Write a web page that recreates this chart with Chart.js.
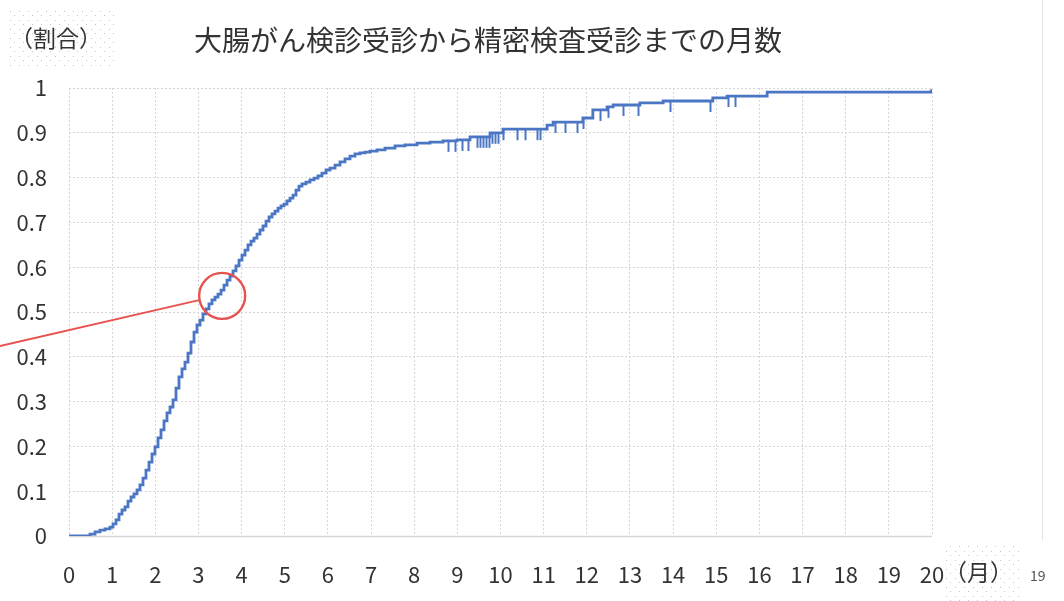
<!DOCTYPE html>
<html>
<head>
<meta charset="utf-8">
<script src="https://cdn.jsdelivr.net/npm/chart.js@4"></script>
<style>
  html, body { margin: 0; padding: 0; background: #fff; }
  #wrap { width: 1064px; height: 601px; }
</style>
</head>
<body>
<div id="wrap"><canvas id="kmChart" width="1064" height="601"></canvas></div>
<script>
// 受診までの月数 と 累積割合 (readings)
var months = [0, 0.45, 0.487, 0.603, 0.718, 0.834, 0.950, 1.020, 1.089, 1.159, 1.228, 1.298, 1.367, 1.437,
    1.506, 1.576, 1.645, 1.715, 1.784, 1.854, 1.924, 1.993, 2.063, 2.132, 2.202, 2.271, 2.341, 2.410,
    2.480, 2.549, 2.619, 2.688, 2.758, 2.827, 2.897, 2.966, 3.036, 3.105, 3.175, 3.245, 3.314, 3.384,
    3.453, 3.523, 3.592, 3.662, 3.731, 3.801, 3.870, 3.940, 4.009, 4.079, 4.148, 4.218, 4.287, 4.357,
    4.426, 4.496, 4.566, 4.635, 4.705, 4.774, 4.844, 4.913, 4.983, 5.052, 5.122, 5.191, 5.261, 5.330,
    5.400, 5.492, 5.585, 5.678, 5.770, 5.863, 5.956, 6.049, 6.165, 6.280, 6.396, 6.512, 6.628, 6.744,
    6.860, 6.976, 7.138, 7.323, 7.555, 7.787, 8.065, 8.366, 8.667, 8.992, 9.293, 9.757, 10.058,
    11.08, 11.22, 11.91, 12.14, 12.47, 12.61, 13.23, 13.77, 14.92, 15.25, 16.18, 19.98, 20.0];
var rates = [0, 0, 0.004, 0.009, 0.013, 0.016, 0.020, 0.027, 0.036, 0.049, 0.058, 0.065, 0.078, 0.087,
    0.094, 0.103, 0.114, 0.129, 0.147, 0.165, 0.183, 0.199, 0.219, 0.237, 0.257, 0.275, 0.288, 0.304,
    0.330, 0.355, 0.373, 0.388, 0.408, 0.433, 0.455, 0.471, 0.482, 0.496, 0.507, 0.518, 0.527, 0.533,
    0.540, 0.549, 0.560, 0.571, 0.580, 0.592, 0.603, 0.616, 0.627, 0.638, 0.650, 0.658, 0.665, 0.674,
    0.683, 0.692, 0.703, 0.712, 0.719, 0.725, 0.732, 0.737, 0.741, 0.748, 0.754, 0.761, 0.772, 0.781,
    0.786, 0.790, 0.795, 0.799, 0.804, 0.810, 0.817, 0.821, 0.828, 0.835, 0.842, 0.848, 0.853, 0.855,
    0.857, 0.859, 0.862, 0.866, 0.871, 0.873, 0.877, 0.879, 0.882, 0.884, 0.891, 0.900, 0.908,
    0.917, 0.924, 0.933, 0.951, 0.958, 0.962, 0.967, 0.971, 0.978, 0.982, 0.991, 0.993, 0.997];

// 打ち切り (censor marks)
var censorMonths = [8.78, 8.95, 9.11, 9.25, 9.46, 9.52, 9.59, 9.66, 9.73, 9.80, 9.87, 9.94, 10.06,
    10.38, 10.57, 10.85, 10.92, 11.26, 11.49, 11.77, 11.91, 12.31, 12.49, 12.84, 13.19, 13.93,
    14.86, 15.27, 15.43];

var xTickLabels = ['0','1','2','3','4','5','6','7','8','9','10','11','12','13','14','15','16','17','18','19','20'];
var yTickLabels = ['0','0.1','0.2','0.3','0.4','0.5','0.6','0.7','0.8','0.9','1'];

var titleText = '大腸がん検診受診から精密検査受診までの月数';
var yAxisTitle = '（割合）';
var xAxisTitle = '（月）';
var pageNo = '19';

// red highlight circle and pointer
var circleAt = { x: 3.55, y: 0.536 };
var pointerFrom = { x: -1.6, y: 0.424 };
var pointerTo = { x: 3.04, y: 0.527 };

var lineColor = '#4a76c4';
var fontJP = '"Noto Sans CJK JP", "Noto Sans", sans-serif';

var points = months.map(function (m, i) { return { x: m, y: rates[i] }; });

function rateAt(t) {
    var v = 0;
    for (var i = 0; i < months.length; i++) {
        if (months[i] <= t) v = rates[i];
    }
    return v;
}

function dotPattern(ctx) {
    var c = document.createElement('canvas');
    c.width = 9; c.height = 9;
    var g = c.getContext('2d');
    g.fillStyle = '#b9c6d3';
    g.fillRect(1, 2, 1, 1);
    g.fillRect(5, 6, 1, 1);
    return ctx.createPattern(c, 'repeat');
}

var decorPlugin = {
    id: 'decor',
    beforeDatasetsDraw: function (chart) {
        var ctx = chart.ctx, a = chart.chartArea;
        ctx.save();
        ctx.strokeStyle = '#d6d6d6';
        ctx.lineWidth = 1.5;
        ctx.beginPath();
        ctx.moveTo(a.left, a.bottom + 0.5);
        ctx.lineTo(a.right, a.bottom + 0.5);
        ctx.stroke();
        ctx.restore();
    },
    afterDatasetsDraw: function (chart) {
        var ctx = chart.ctx, xs = chart.scales.x, ys = chart.scales.y;
        ctx.save();
        // censor ticks hanging below the curve
        ctx.strokeStyle = lineColor;
        ctx.lineWidth = 2;
        censorMonths.forEach(function (t) {
            var px = Math.round(xs.getPixelForValue(t)) + 0.5;
            var py = ys.getPixelForValue(rateAt(t));
            ctx.beginPath();
            ctx.moveTo(px, py);
            ctx.lineTo(px, py + 11);
            ctx.stroke();
        });
        // red circle + pointer
        ctx.strokeStyle = '#e8524f';
        ctx.lineWidth = 2.4;
        ctx.beginPath();
        ctx.arc(xs.getPixelForValue(circleAt.x), ys.getPixelForValue(circleAt.y), 23, 0, Math.PI * 2);
        ctx.stroke();
        ctx.lineWidth = 1.8;
        ctx.beginPath();
        ctx.moveTo(xs.getPixelForValue(pointerFrom.x), ys.getPixelForValue(pointerFrom.y));
        ctx.lineTo(xs.getPixelForValue(pointerTo.x), ys.getPixelForValue(pointerTo.y));
        ctx.stroke();
        ctx.restore();
    },
    afterDraw: function (chart) {
        var ctx = chart.ctx;
        ctx.save();
        // stippled label boxes
        ctx.fillStyle = dotPattern(ctx);
        ctx.fillRect(8, 8, 108, 58);
        ctx.fillStyle = '#ffffff';
        ctx.fillRect(946, 546, 76, 55);
        ctx.fillStyle = dotPattern(ctx);
        ctx.fillRect(946, 546, 76, 55);
        // page edge
        ctx.strokeStyle = '#e4e4e4';
        ctx.lineWidth = 1;
        ctx.beginPath();
        ctx.moveTo(1042.5, 0);
        ctx.lineTo(1042.5, 540);
        ctx.stroke();

        ctx.fillStyle = '#333333';
        ctx.textBaseline = 'middle';
        ctx.textAlign = 'left';
        ctx.font = '28px ' + fontJP;
        ctx.fillText(titleText, 194, 40);
        ctx.font = '23px ' + fontJP;
        ctx.fillText(yAxisTitle, 10, 38);
        ctx.fillText(xAxisTitle, 944, 572);
        ctx.font = '14px ' + fontJP;
        ctx.fillStyle = '#555555';
        ctx.fillText(pageNo, 1030, 576);
        ctx.restore();
    }
};

var ctx = document.getElementById('kmChart').getContext('2d');
var kmChart = new Chart(ctx, {
    type: 'line',
    data: {
        datasets: [{
            data: points,
            borderColor: lineColor,
            borderWidth: 2.8,
            pointRadius: 0,
            stepped: 'before',
            fill: false
        }]
    },
    options: {
        responsive: false,
        animation: false,
        events: [],
        layout: { padding: { left: 0, right: 132, top: 88, bottom: 0 } },
        plugins: {
            legend: { display: false },
            tooltip: { enabled: false }
        },
        scales: {
            x: {
                type: 'linear',
                min: 0,
                max: 20,
                afterFit: function (s) { s.height = 65; },
                border: { display: false, dash: [2, 2] },
                grid: { color: '#d6d6d6', lineWidth: 1, drawTicks: false },
                ticks: {
                    stepSize: 1,
                    padding: 25,
                    color: '#333333',
                    font: { family: fontJP, size: 22 },
                    maxRotation: 0,
                    autoSkip: false,
                    callback: function (v) { return xTickLabels[v]; }
                }
            },
            y: {
                min: 0,
                max: 1,
                afterFit: function (s) { s.width = 69; },
                border: { display: false, dash: [2, 2] },
                grid: { color: '#d6d6d6', lineWidth: 1, drawTicks: false },
                ticks: {
                    stepSize: 0.1,
                    padding: 22,
                    color: '#333333',
                    font: { family: fontJP, size: 22 },
                    callback: function (v, i) { return yTickLabels[i]; }
                }
            }
        }
    },
    plugins: [decorPlugin]
});
</script>
</body>
</html>
